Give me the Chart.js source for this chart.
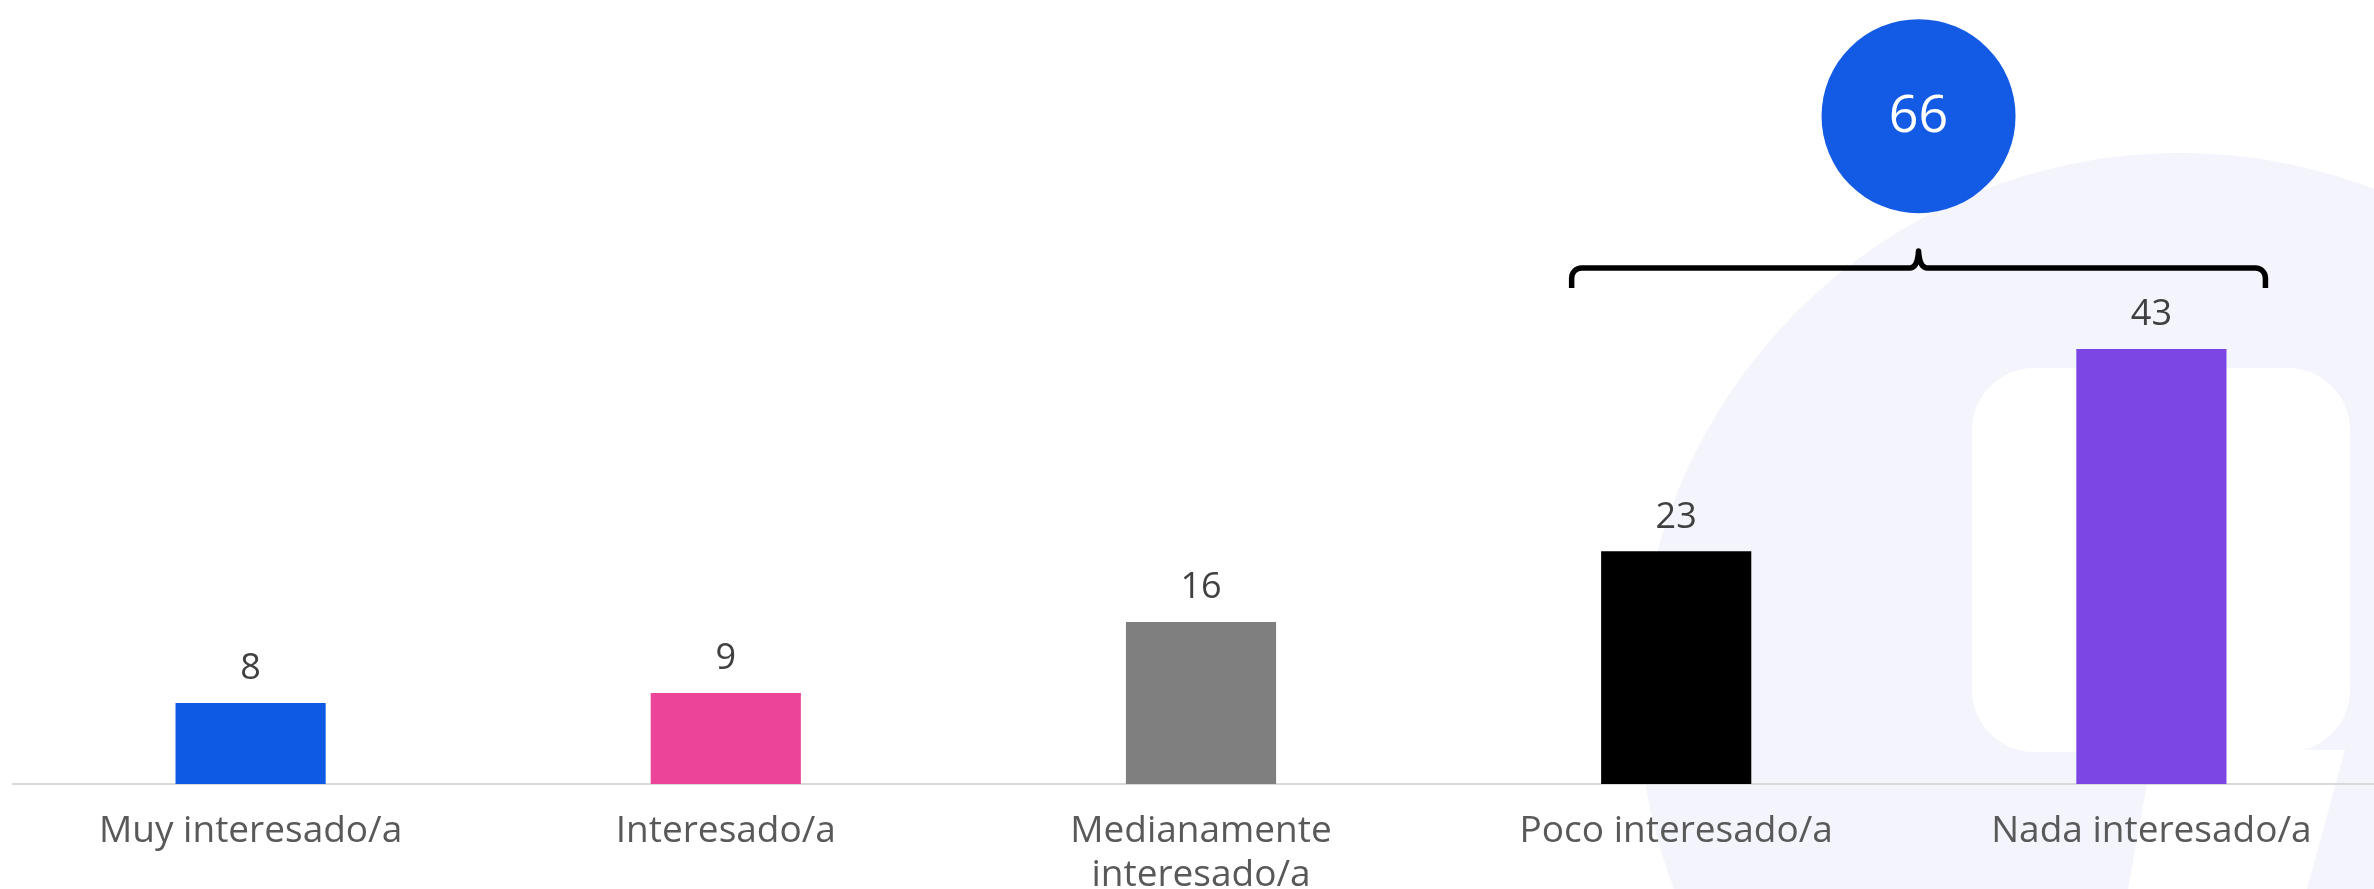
<!DOCTYPE html>
<html>
<head>
<meta charset="utf-8">
<script src="https://cdn.jsdelivr.net/npm/chart.js@4"></script>
<style>
  html, body { margin: 0; padding: 0; background: #ffffff; overflow: hidden; }
  #wrap { width: 2389px; height: 889px; }
</style>
</head>
<body>
<div id="wrap"><canvas id="interestChart" width="2389" height="889"></canvas></div>
<script>
// Data
const categories = ['Muy interesado/a', 'Interesado/a', ['Medianamente', 'interesado/a'], 'Poco interesado/a', 'Nada interesado/a'];
const values = [8, 9, 16, 23, 43];
const barColors = ['#0E5AE5', '#EC4497', '#7F7F7F', '#000000', '#7B46E3'];
// the last two categories are grouped under the bracket
const groupedIdx = [3, 4];

const FONT = '"Open Sans", Roboto, sans-serif';

// Light watermark shape behind the chart
const watermark = {
    id: 'watermark',
    beforeDraw(chart) {
        const ctx = chart.ctx;
        ctx.save();
        ctx.fillStyle = '#F3F4FC';
        ctx.beginPath();
        ctx.arc(2180, 695, 542, 0, Math.PI * 2);
        ctx.fill();
        ctx.fillStyle = '#FFFFFF';
        ctx.beginPath();
        ctx.roundRect(1972, 368, 378, 384, 62);
        ctx.fill();
        ctx.beginPath();
        ctx.moveTo(2153, 750);
        ctx.lineTo(2345, 750);
        ctx.lineTo(2307, 889);
        ctx.lineTo(2128, 889);
        ctx.closePath();
        ctx.fill();
        ctx.restore();
    }
};

// Values above bars + bracket with total bubble
const annotations = {
    id: 'annotations',
    afterDatasetsDraw(chart) {
        const ctx = chart.ctx;
        const meta = chart.getDatasetMeta(0);
        const x = chart.scales.x;
        const y = chart.scales.y;

        ctx.save();
        ctx.fillStyle = '#404040';
        ctx.font = '36px ' + FONT;
        ctx.textAlign = 'center';
        ctx.textBaseline = 'middle';
        meta.data.forEach((bar, i) => {
            ctx.fillText(String(values[i]), bar.x, bar.y - 34);
        });

        // bracket
        const catW = x.getPixelForValue(1) - x.getPixelForValue(0);
        const left = x.getPixelForValue(groupedIdx[0]) - 0.22 * catW;
        const right = x.getPixelForValue(groupedIdx[1]) + 0.24 * catW;
        const mid = (left + right) / 2;
        const total = groupedIdx.reduce((s, i) => s + values[i], 0);
        const by = y.getPixelForValue(51);
        ctx.strokeStyle = '#000000';
        ctx.lineWidth = 5.5;
        ctx.lineJoin = 'round';
        ctx.beginPath();
        ctx.moveTo(left, by + 20);
        ctx.arcTo(left, by, left + 12, by, 10);
        ctx.lineTo(mid - 9, by);
        ctx.quadraticCurveTo(mid - 1, by, mid, by - 17);
        ctx.quadraticCurveTo(mid + 1, by, mid + 9, by);
        ctx.lineTo(right - 12, by);
        ctx.arcTo(right, by, right, by + 20, 10);
        ctx.lineTo(right, by + 20);
        ctx.stroke();

        // bubble with total
        const cy = y.getPixelForValue(total);
        ctx.fillStyle = '#135BE4';
        ctx.beginPath();
        ctx.arc(mid, cy, 97, 0, Math.PI * 2);
        ctx.fill();
        ctx.fillStyle = '#FFFFFF';
        ctx.font = '52px ' + FONT;
        ctx.fillText(String(total), mid, cy + 1);
        ctx.restore();
    }
};

new Chart(document.getElementById('interestChart').getContext('2d'), {
    type: 'bar',
    data: {
        labels: categories,
        datasets: [{
            data: values,
            backgroundColor: barColors,
            barPercentage: 0.316,
            categoryPercentage: 1
        }]
    },
    options: {
        responsive: false,
        devicePixelRatio: 1,
        animation: false,
        layout: { padding: { left: 13, right: 0, top: 10, bottom: 0 } },
        plugins: {
            legend: { display: false },
            tooltip: { enabled: false }
        },
        scales: {
            x: {
                grid: { display: false, drawTicks: false },
                border: { display: true, color: '#D9D9D9', width: 2 },
                ticks: {
                    color: '#595959',
                    font: { family: FONT, size: 37, lineHeight: 1.2 },
                    padding: 25,
                    maxRotation: 0,
                    autoSkip: false
                },
                afterFit(scale) { scale.height = 105; }
            },
            y: {
                display: false,
                min: 0,
                max: 76.5
            }
        }
    },
    plugins: [watermark, annotations]
});
</script>
</body>
</html>
